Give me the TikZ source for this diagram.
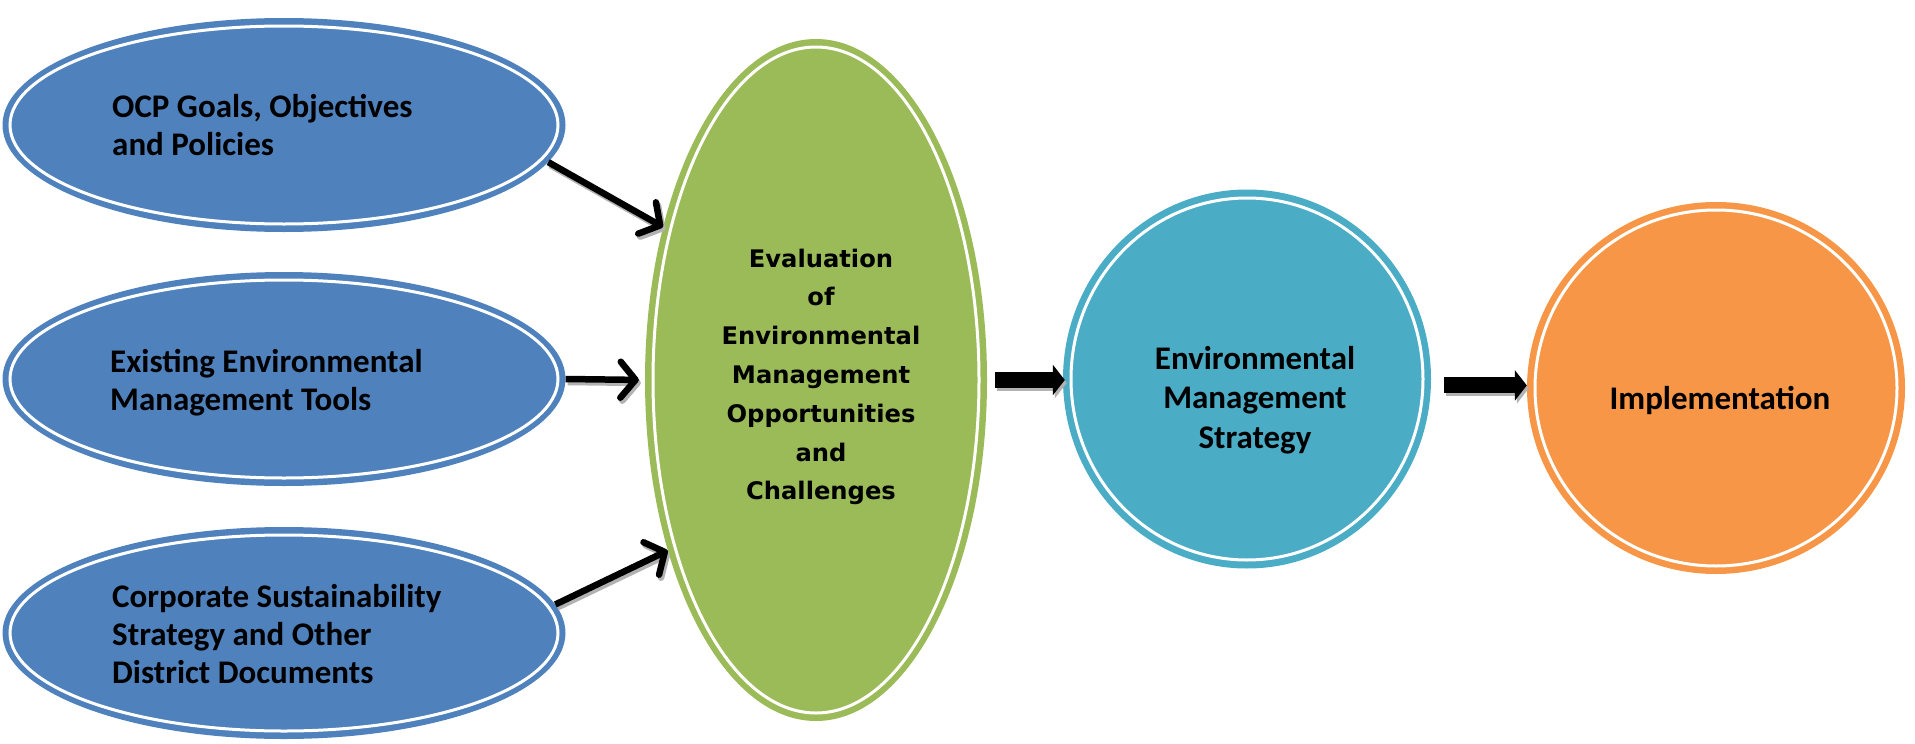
\documentclass[tikz,border=0pt]{standalone}
\usepackage{fontspec}
\setmainfont{Carlito}
\newfontfamily\verd{DejaVu Sans}
\usetikzlibrary{shapes.geometric,arrows.meta}
\definecolor{cblue}{HTML}{4F81BD}
\definecolor{cgreen}{HTML}{9BBB59}
\definecolor{cteal}{HTML}{4BACC6}
\definecolor{corange}{HTML}{F79646}
\begin{document}
\begin{tikzpicture}[x=1pt,y=-1pt,
  blob/.style={ellipse, inner sep=0pt, fill=#1},
  ring/.style={draw=white, line width=3pt},
  lbl/.style={font=\bfseries\fontsize{33}{38}\selectfont, text=black, align=left, anchor=west, inner sep=0pt},
  clbl/.style={font=\bfseries\fontsize{33}{39.5}\selectfont, text=black, align=center, inner sep=0pt},
  glbl/.style={font=\verd\bfseries\fontsize{24.2}{38.8}\selectfont, text=black, align=center, inner sep=0pt},
  thinarrow/.style={line width=6.5pt, -{Straight Barb[length=15pt,width=36pt,round]}},
  fatarrow/.style={line width=16pt, -{Triangle[length=12pt,width=30pt]}},
  shadowcopy/.style={black!30, transform canvas={shift={(2pt,-3pt)}}}
]
\useasboundingbox (0,0) rectangle (1915,744);

% left ellipses
\node[blob=cblue, minimum width=563pt, minimum height=214pt] (e1) at (284,125) {};
\draw[ring] (e1.center) ellipse [x radius=274, y radius=99];
\node[blob=cblue, minimum width=563pt, minimum height=214pt] (e2) at (284,379) {};
\draw[ring] (e2.center) ellipse [x radius=274, y radius=99];
\node[blob=cblue, minimum width=563pt, minimum height=212pt] (e3) at (284,633) {};
\draw[ring] (e3.center) ellipse [x radius=274, y radius=98];

% green ellipse
\node[blob=cgreen, minimum width=342pt, minimum height=682pt] (g) at (816,380) {};
\draw[ring] (g.center) ellipse [x radius=163, y radius=333];

% teal circle
\node[blob=cteal, minimum width=368pt, minimum height=379pt] (c) at (1247,379) {};
\draw[ring] (c.center) ellipse [x radius=176, y radius=181];

% orange circle
\node[blob=corange, minimum width=378pt, minimum height=372pt] (o) at (1716,388) {};
\draw[ring] (o.center) ellipse [x radius=181, y radius=178];

% texts
\node[lbl] (t1) at (112,125) {OCP Goals, Objectives\\and Policies};
\node[lbl] (t2) at (110,383) {Existing Environmental\\Management Tools};
\node[lbl] (t3) at (112,634) {Corporate Sustainability\\Strategy and Other\\District Documents};
\node[glbl] (tg) at (821,377) {Evaluation\\of\\Environmental\\Management\\Opportunities\\and\\Challenges};
\node[clbl] (tc) at (1255,400) {Environmental\\Management\\Strategy};
\node[clbl] (to) at (1720,400) {Implementation};

% thin arrows
\draw[thinarrow, shadowcopy] (e1.-8) -- (g.135.7);
\draw[thinarrow] (e1.-8) -- (g.135.7);
\draw[thinarrow, shadowcopy, shorten >=6pt] (e2.east) -- (g.west);
\draw[thinarrow, shorten >=6pt] (e2.east) -- (g.west);
\draw[thinarrow, shadowcopy] (e3.6.6) -- (g.229);
\draw[thinarrow] (e3.6.6) -- (g.229);

% fat arrows
\draw[fatarrow, shadowcopy, shorten <=8pt, shorten >=-2pt] (g.east) -- (g.east -| c.west);
\draw[fatarrow, shorten <=8pt, shorten >=-2pt] (g.east) -- (g.east -| c.west);
\draw[fatarrow, shadowcopy, shorten <=13pt] (c.-2) -- (c.-2 -| o.west);
\draw[fatarrow, shorten <=13pt] (c.-2) -- (c.-2 -| o.west);
\end{tikzpicture}
\end{document}
